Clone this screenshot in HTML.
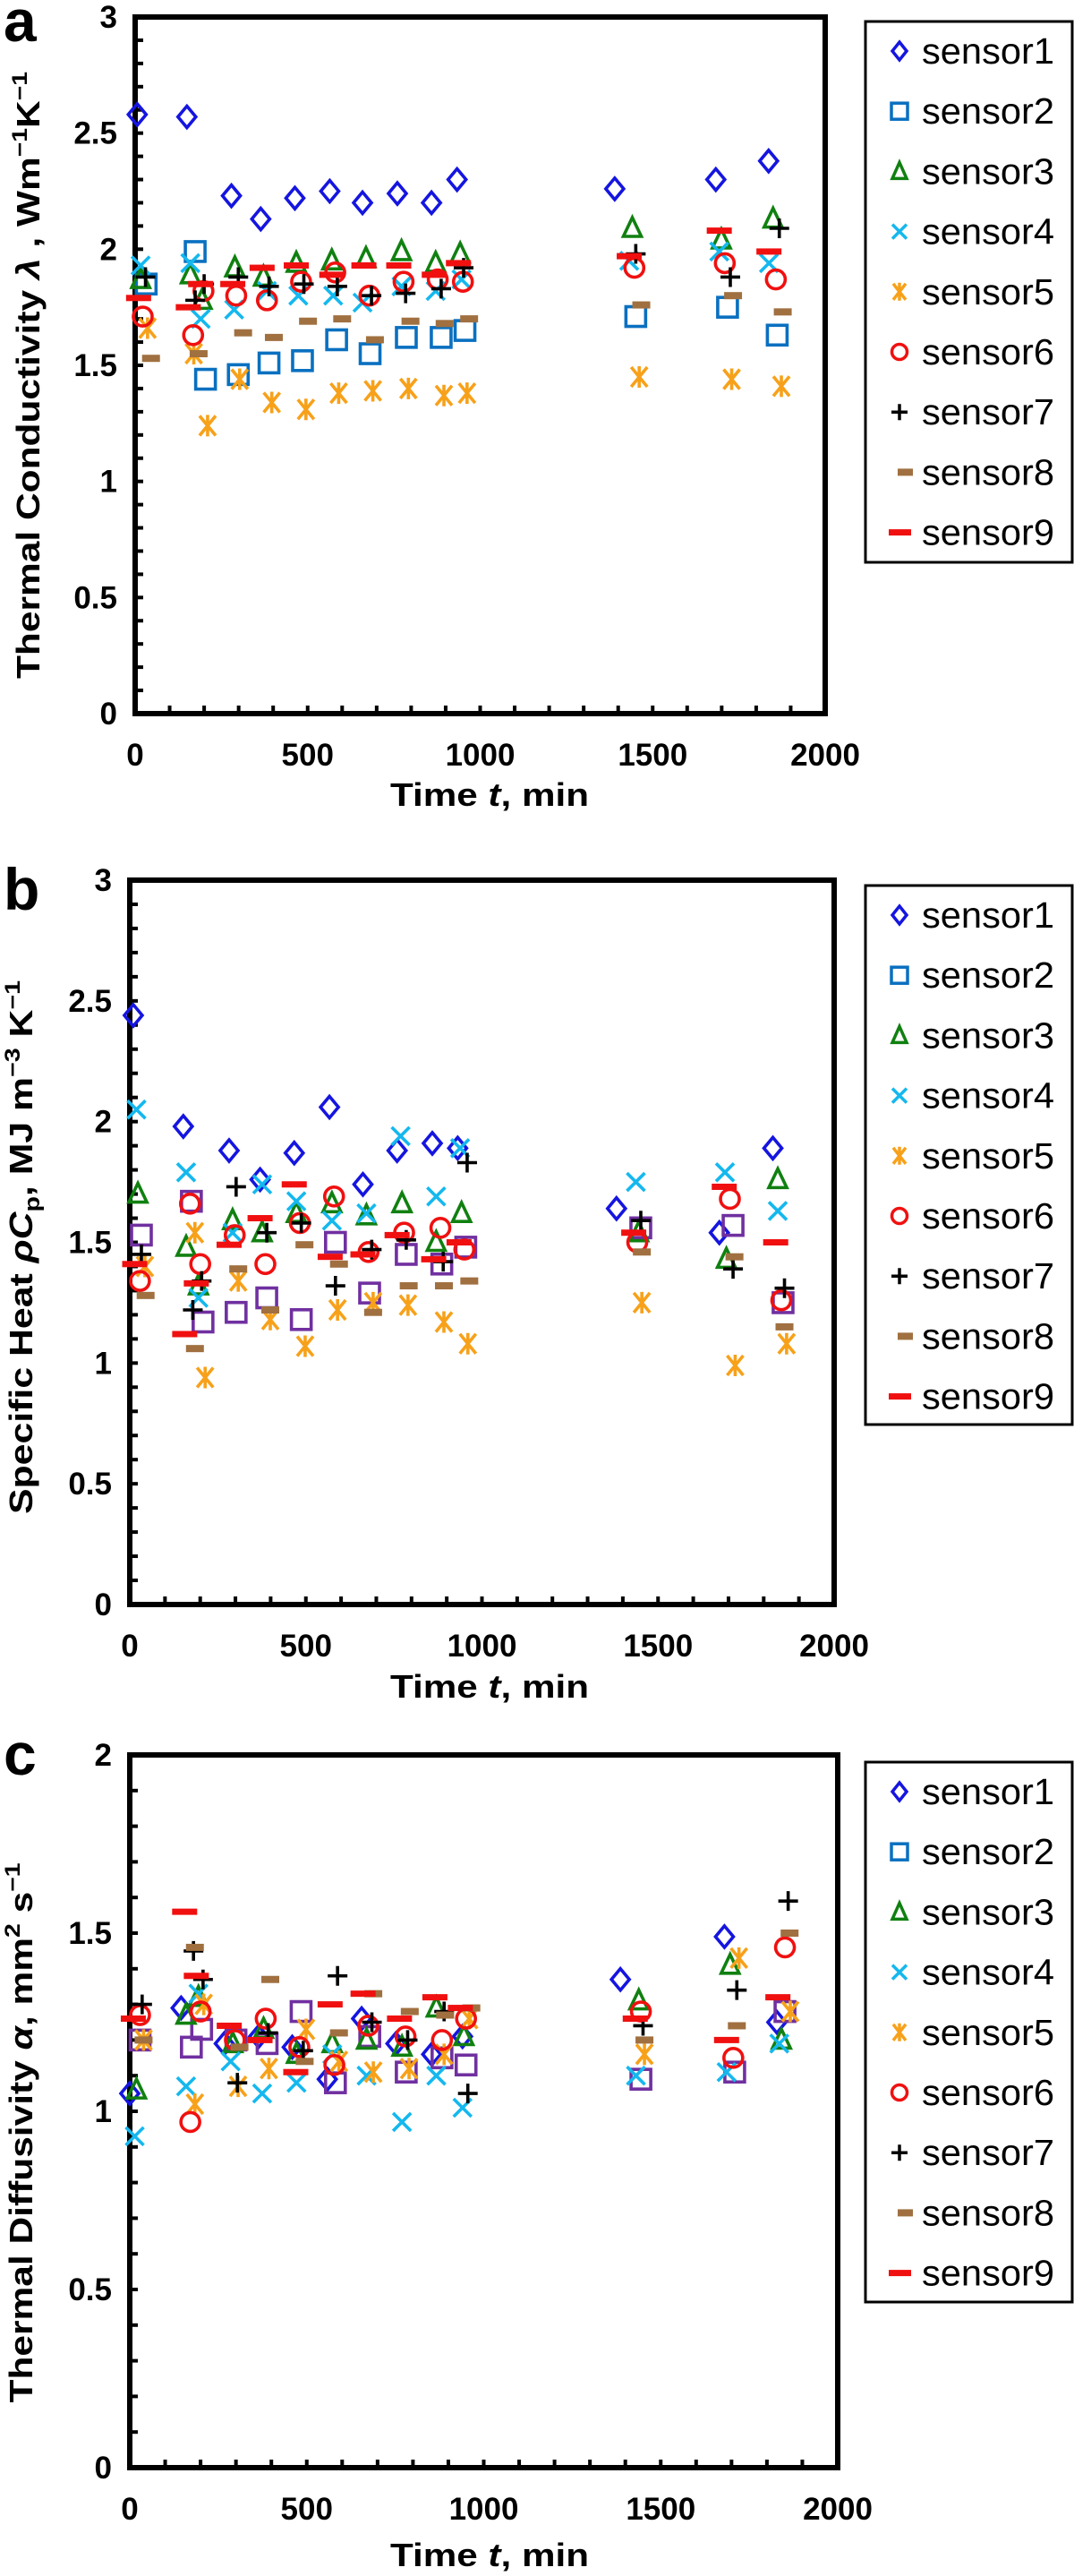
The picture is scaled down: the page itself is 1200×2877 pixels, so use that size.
<!DOCTYPE html>
<html><head><meta charset="utf-8"><style>
html,body{margin:0;padding:0;background:#fff}
svg{display:block;font-family:"Liberation Sans",Arial,sans-serif}
</style></head><body>
<svg id="fig" width="1200" height="2877" viewBox="0 0 1200 2877" xmlns="http://www.w3.org/2000/svg"></svg>
<script>
// ---------- Panel a: thermal conductivity ----------
const a_s1_t=[6,150,279,364,463,564,659,760,859,933,1390,1683,1836];
const a_s1_v=[2.58,2.57,2.23,2.13,2.22,2.25,2.20,2.24,2.20,2.30,2.26,2.30,2.38];
const a_s2_t=[32,174,204,299,388,485,584,681,786,887,956,1451,1717,1861];
const a_s2_v=[1.85,1.99,1.44,1.46,1.51,1.52,1.61,1.55,1.62,1.62,1.65,1.71,1.75,1.63];
const a_s3_t=[16,160,194,289,372,467,570,669,772,871,942,1441,1699,1849];
const a_s3_v=[1.87,1.89,1.78,1.92,1.88,1.94,1.95,1.96,1.99,1.94,1.98,2.09,2.04,2.13];
const a_s4_t=[16,160,190,287,382,473,574,659,772,871,946,1432,1693,1837];
const a_s4_v=[1.93,1.94,1.70,1.74,1.82,1.80,1.80,1.77,1.84,1.82,1.87,1.95,1.99,1.94];
const a_s5_t=[36,170,210,303,396,495,590,689,792,895,962,1461,1729,1873];
const a_s5_v=[1.66,1.55,1.24,1.44,1.34,1.31,1.38,1.39,1.40,1.37,1.38,1.45,1.44,1.41];
const a_s6_t=[22,168,198,293,382,481,580,679,778,877,950,1447,1709,1857];
const a_s6_v=[1.71,1.63,1.82,1.80,1.78,1.86,1.90,1.80,1.86,1.87,1.86,1.92,1.94,1.87];
const a_s7_t=[30,174,200,299,388,489,586,685,784,887,952,1451,1725,1867];
const a_s7_v=[1.88,1.78,1.85,1.88,1.84,1.85,1.84,1.80,1.81,1.83,1.92,1.98,1.88,2.09];
const a_s8_t=[46,184,313,402,501,600,695,798,897,968,1467,1733,1877];
const a_s8_v=[1.53,1.55,1.64,1.62,1.69,1.70,1.61,1.69,1.68,1.70,1.76,1.80,1.73];
const a_s9_t=[10,154,190,283,368,467,570,663,764,867,937,1432,1693,1837];
const a_s9_v=[1.79,1.75,1.85,1.85,1.92,1.93,1.89,1.93,1.93,1.89,1.94,1.97,2.08,1.99];
// ---------- Panel b: specific heat ----------
const b_s1_t=[10,152,282,370,467,567,662,759,859,931,1382,1674,1826];
const b_s1_v=[2.44,1.98,1.88,1.76,1.87,2.06,1.74,1.88,1.91,1.89,1.64,1.54,1.89];
const b_s2_t=[33,175,208,302,389,487,584,681,785,886,954,1451,1713,1855];
const b_s2_v=[1.53,1.67,1.17,1.21,1.27,1.18,1.50,1.29,1.45,1.41,1.48,1.56,1.57,1.25];
const b_s3_t=[23,160,195,292,376,473,574,672,773,870,942,1445,1694,1840];
const b_s3_v=[1.70,1.48,1.32,1.59,1.54,1.62,1.66,1.61,1.66,1.50,1.62,1.54,1.43,1.76];
const b_s4_t=[19,160,195,292,376,473,574,672,769,870,938,1437,1690,1840];
const b_s4_v=[2.05,1.79,1.27,1.54,1.74,1.67,1.59,1.62,1.94,1.69,1.89,1.75,1.79,1.63];
const b_s5_t=[43,185,214,308,399,498,590,691,790,892,960,1454,1719,1865];
const b_s5_v=[1.40,1.54,0.94,1.34,1.18,1.07,1.22,1.25,1.24,1.17,1.08,1.25,0.99,1.08];
const b_s6_t=[29,171,200,298,385,483,580,678,779,882,950,1441,1704,1850];
const b_s6_v=[1.34,1.66,1.41,1.53,1.41,1.58,1.69,1.46,1.54,1.56,1.47,1.50,1.68,1.26];
const b_s7_t=[33,179,204,302,389,487,584,687,785,890,958,1451,1713,1859];
const b_s7_v=[1.45,1.22,1.34,1.73,1.54,1.58,1.32,1.47,1.51,1.42,1.83,1.59,1.39,1.31];
const b_s8_t=[45,185,308,399,496,594,691,792,892,964,1454,1717,1859];
const b_s8_v=[1.28,1.06,1.39,1.22,1.49,1.41,1.21,1.32,1.32,1.34,1.46,1.44,1.15];
const b_s9_t=[14,156,189,282,370,467,569,662,759,863,935,1431,1688,1834];
const b_s9_v=[1.41,1.12,1.33,1.49,1.60,1.74,1.44,1.45,1.53,1.43,1.50,1.54,1.73,1.50];
// ---------- Panel c: thermal diffusivity ----------
const c_s1_t=[0,145,267,364,459,558,655,752,853,940,1386,1680,1828];
const c_s1_v=[1.05,1.29,1.19,1.21,1.18,1.09,1.26,1.19,1.16,1.21,1.37,1.49,1.25];
const c_s2_t=[29,174,203,300,388,484,581,678,781,882,950,1444,1709,1851];
const c_s2_v=[1.20,1.18,1.23,1.20,1.19,1.28,1.08,1.21,1.11,1.15,1.13,1.09,1.11,1.28];
const c_s3_t=[19,159,194,291,378,471,572,669,769,866,944,1438,1696,1841];
const c_s3_v=[1.06,1.27,1.32,1.19,1.23,1.16,1.19,1.20,1.18,1.29,1.21,1.31,1.41,1.20];
const c_s4_t=[14,159,194,285,374,471,572,669,769,866,940,1430,1686,1835];
const c_s4_v=[0.93,1.07,1.33,1.14,1.05,1.08,1.16,1.10,0.97,1.10,1.01,1.10,1.11,1.19];
const c_s5_t=[39,184,209,306,393,498,591,688,789,888,959,1454,1721,1866];
const c_s5_v=[1.20,1.02,1.30,1.07,1.12,1.23,1.14,1.11,1.12,1.16,1.26,1.16,1.43,1.28];
const c_s6_t=[29,171,200,297,384,479,578,674,779,882,950,1444,1705,1851];
const c_s6_v=[1.27,0.97,1.28,1.20,1.26,1.18,1.13,1.24,1.21,1.20,1.26,1.28,1.15,1.46];
const c_s7_t=[35,180,207,304,391,490,587,684,785,888,955,1450,1715,1860];
const c_s7_v=[1.30,1.45,1.37,1.08,1.22,1.17,1.38,1.25,1.20,1.28,1.05,1.24,1.34,1.59];
const c_s8_t=[39,184,310,397,494,591,688,791,891,965,1454,1715,1864];
const c_s8_v=[1.20,1.46,1.18,1.37,1.14,1.22,1.33,1.28,1.27,1.29,1.20,1.24,1.50];
const c_s9_t=[10,155,188,281,368,469,566,659,762,862,934,1428,1686,1831];
const c_s9_v=[1.26,1.56,1.38,1.24,1.20,1.11,1.30,1.33,1.26,1.32,1.29,1.26,1.20,1.32];

const a_yticks=["0","0.5","1","1.5","2","2.5","3"];
const b_yticks=["0","0.5","1","1.5","2","2.5","3"];
const c_yticks=["0","0.5","1","1.5","2"];
const xticks=["0","500","1000","1500","2000"];
const sensorNames=["sensor1","sensor2","sensor3","sensor4","sensor5","sensor6","sensor7","sensor8","sensor9"];

const NS="http://www.w3.org/2000/svg";
const svg=document.getElementById('fig');
function mk(tag,attrs,parent){const e=document.createElementNS(NS,tag);for(const k in attrs)e.setAttribute(k,attrs[k]);(parent||svg).appendChild(e);return e;}

const COL={s1:"#1515e0",s2:"#0a70c0",s2p:"#7030a0",s3:"#108010",s4:"#14b8ee",s5:"#f7a11a",s6:"#f01010",s7:"#000",s8:"#a07040",s9:"#f01010"};

function marker(g,type,x,y,purple){
  const sw=3.6;
  if(type===1){mk('path',{d:`M${x} ${y-12}L${x+10} ${y}L${x} ${y+12}L${x-10} ${y}Z`,fill:'none',stroke:COL.s1,'stroke-width':sw},g);}
  else if(type===2){mk('rect',{x:x-11,y:y-11,width:22,height:22,fill:'none',stroke:purple?COL.s2p:COL.s2,'stroke-width':sw},g);}
  else if(type===3){mk('path',{d:`M${x} ${y-12}L${x+10} ${y+9}L${x-10} ${y+9}Z`,fill:'none',stroke:COL.s3,'stroke-width':sw},g);}
  else if(type===4){mk('path',{d:`M${x-10} ${y-10}L${x+10} ${y+10}M${x+10} ${y-10}L${x-10} ${y+10}`,stroke:COL.s4,'stroke-width':sw},g);}
  else if(type===5){mk('path',{d:`M${x-9} ${y-11}L${x+9} ${y+11}M${x+9} ${y-11}L${x-9} ${y+11}M${x} ${y-12}L${x} ${y+12}`,stroke:COL.s5,'stroke-width':sw},g);}
  else if(type===6){mk('circle',{cx:x,cy:y,r:10.5,fill:'none',stroke:COL.s6,'stroke-width':sw},g);}
  else if(type===7){mk('path',{d:`M${x-11} ${y}L${x+11} ${y}M${x} ${y-11}L${x} ${y+11}`,stroke:COL.s7,'stroke-width':3.6},g);}
  else if(type===8){mk('rect',{x:x-10,y:y-4,width:20,height:8,fill:COL.s8},g);}
  else if(type===9){mk('rect',{x:x-14,y:y-3.5,width:28,height:7,fill:COL.s9},g);}
}

function panel(p){
  const g=mk('g',{});
  
  
  const X=t=>p.x0+(p.x1-p.x0)*t/2000;
  const Y=v=>p.y1-(p.y1-p.y0)*v/p.ymax;
  // ticks
  const tg=mk('g',{},g);
  
  
  for(let i=1;i<p.ymax*10;i++){mk('line',{x1:p.x0,x2:p.x0+9,y1:Y(i/10),y2:Y(i/10),stroke:'#000','stroke-width':4},tg);}
  for(let i=1;i<20;i++){mk('line',{x1:X(i*100),x2:X(i*100),y1:p.y1,y2:p.y1-9,stroke:'#000','stroke-width':4},tg);}
  const frame=mk('rect',{x:p.x0,y:p.y0,width:p.x1-p.x0,height:p.y1-p.y0,fill:'none',stroke:'#000','stroke-width':6},g);
  
  
  p.yt.forEach(s=>{const t=mk('text',{x:p.x0-20,y:Y(parseFloat(s))+12,'text-anchor':'end','font-size':35,'font-weight':'bold'},g);t.textContent=s;
    
    });
  xticks.forEach(s=>{const t=mk('text',{x:X(parseFloat(s)),y:p.y1+58,'text-anchor':'middle','font-size':35,'font-weight':'bold'},g);t.textContent=s;
    
    });
  const xt=mk('text',{x:547,y:p.xtY,'text-anchor':'middle','font-size':36,'font-weight':'bold',textLength:222,lengthAdjust:'spacingAndGlyphs'},g);
  xt.innerHTML='Time <tspan font-style="italic">t</tspan>, min';
  
  
  const yt=mk('text',{transform:`translate(${p.ylx},${p.ylc}) rotate(-90)`,'text-anchor':'middle','font-size':36,'font-weight':'bold',textLength:p.ylLen,lengthAdjust:'spacingAndGlyphs'},g);
  yt.innerHTML=p.ylabel;
  
  
  const pl=mk('text',{x:4,y:p.letterY,'font-size':66,'font-weight':'bold'},g);
  pl.textContent=p.id;
  
  
  // series
  p.series.forEach((s,i)=>{
    const sg=mk('g',{},g);
    
    
    s[0].forEach((t,j)=>marker(sg,i+1,X(t),Y(s[1][j]),p.purple&&i===1));
  });
  // legend
  const lg=mk('g',{},g);
  
  
  mk('rect',{x:967,y:p.ly0,width:231,height:p.ly1-p.ly0,fill:'#fff',stroke:'#000','stroke-width':3},lg);
  sensorNames.forEach((n,i)=>{
    const cy=p.ly0+33+i*67.2;
    const eg=mk('g',{},lg);
    
    
    if(i===0){mk('path',{d:`M1005 ${cy-10}L1013 ${cy}L1005 ${cy+10}L997 ${cy}Z`,fill:'none',stroke:COL.s1,'stroke-width':3.5},eg);}
    else if(i===1){mk('rect',{x:996,y:cy-9,width:18,height:18,fill:'none',stroke:COL.s2,'stroke-width':3.5},eg);}
    else if(i===2){mk('path',{d:`M1005 ${cy-10}L1013 ${cy+8}L997 ${cy+8}Z`,fill:'none',stroke:COL.s3,'stroke-width':3.5},eg);}
    else if(i===3){mk('path',{d:`M997 ${cy-8}L1013 ${cy+8}M1013 ${cy-8}L997 ${cy+8}`,stroke:COL.s4,'stroke-width':3.5},eg);}
    else if(i===4){mk('path',{d:`M998 ${cy-9}L1012 ${cy+9}M1012 ${cy-9}L998 ${cy+9}M1005 ${cy-10}L1005 ${cy+10}`,stroke:COL.s5,'stroke-width':3.5},eg);}
    else if(i===5){mk('circle',{cx:1005,cy:cy,r:8.5,fill:'none',stroke:COL.s6,'stroke-width':3.5},eg);}
    else if(i===6){mk('path',{d:`M996 ${cy}L1014 ${cy}M1005 ${cy-9}L1005 ${cy+9}`,stroke:'#000','stroke-width':3.5},eg);}
    else if(i===7){mk('rect',{x:1003,y:cy-4,width:17,height:8,fill:COL.s8},eg);}
    else {mk('rect',{x:993,y:cy-3.5,width:25,height:7,fill:COL.s9},eg);}
    const tx=mk('text',{x:1030,y:cy+14,'font-size':41,textLength:148,lengthAdjust:'spacingAndGlyphs'},eg);
    tx.textContent=n;
  });
}

panel({id:'a',x0:151,x1:922,y0:19,y1:797,ymax:3,yt:a_yticks,xtY:900,ylx:44,ylc:419,ylLen:678,letterY:46,ly0:24,ly1:628,
  ylabel:'Thermal Conductivity <tspan font-style="italic">λ</tspan> , Wm<tspan font-size="24" dy="-14">−1</tspan><tspan dy="14">K</tspan><tspan font-size="24" dy="-14">−1</tspan>',
  series:[[a_s1_t,a_s1_v],[a_s2_t,a_s2_v],[a_s3_t,a_s3_v],[a_s4_t,a_s4_v],[a_s5_t,a_s5_v],[a_s6_t,a_s6_v],[a_s7_t,a_s7_v],[a_s8_t,a_s8_v],[a_s9_t,a_s9_v]]});
panel({id:'b',x0:145,x1:932,y0:983,y1:1792,ymax:3,yt:b_yticks,xtY:1896,ylx:36,ylc:1393,ylLen:596,letterY:1016,ly0:989,ly1:1591,purple:true,
  ylabel:'Specific Heat <tspan font-style="italic">ρC</tspan><tspan font-size="24" dy="8">p</tspan><tspan dy="-8">, MJ m</tspan><tspan font-size="24" dy="-14">−3</tspan><tspan dy="14"> K</tspan><tspan font-size="24" dy="-14">−1</tspan>',
  series:[[b_s1_t,b_s1_v],[b_s2_t,b_s2_v],[b_s3_t,b_s3_v],[b_s4_t,b_s4_v],[b_s5_t,b_s5_v],[b_s6_t,b_s6_v],[b_s7_t,b_s7_v],[b_s8_t,b_s8_v],[b_s9_t,b_s9_v]]});
panel({id:'c',x0:145,x1:936,y0:1960,y1:2756,ymax:2,yt:c_yticks,xtY:2866,ylx:36,ylc:2382,ylLen:603,letterY:1982,ly0:1968,ly1:2571,purple:true,
  ylabel:'Thermal Diffusivity <tspan font-style="italic">α</tspan>, mm<tspan font-size="24" dy="-14">2</tspan><tspan dy="14"> s</tspan><tspan font-size="24" dy="-14">−1</tspan>',
  series:[[c_s1_t,c_s1_v],[c_s2_t,c_s2_v],[c_s3_t,c_s3_v],[c_s4_t,c_s4_v],[c_s5_t,c_s5_v],[c_s6_t,c_s6_v],[c_s7_t,c_s7_v],[c_s8_t,c_s8_v],[c_s9_t,c_s9_v]]});
</script>
</body></html>
